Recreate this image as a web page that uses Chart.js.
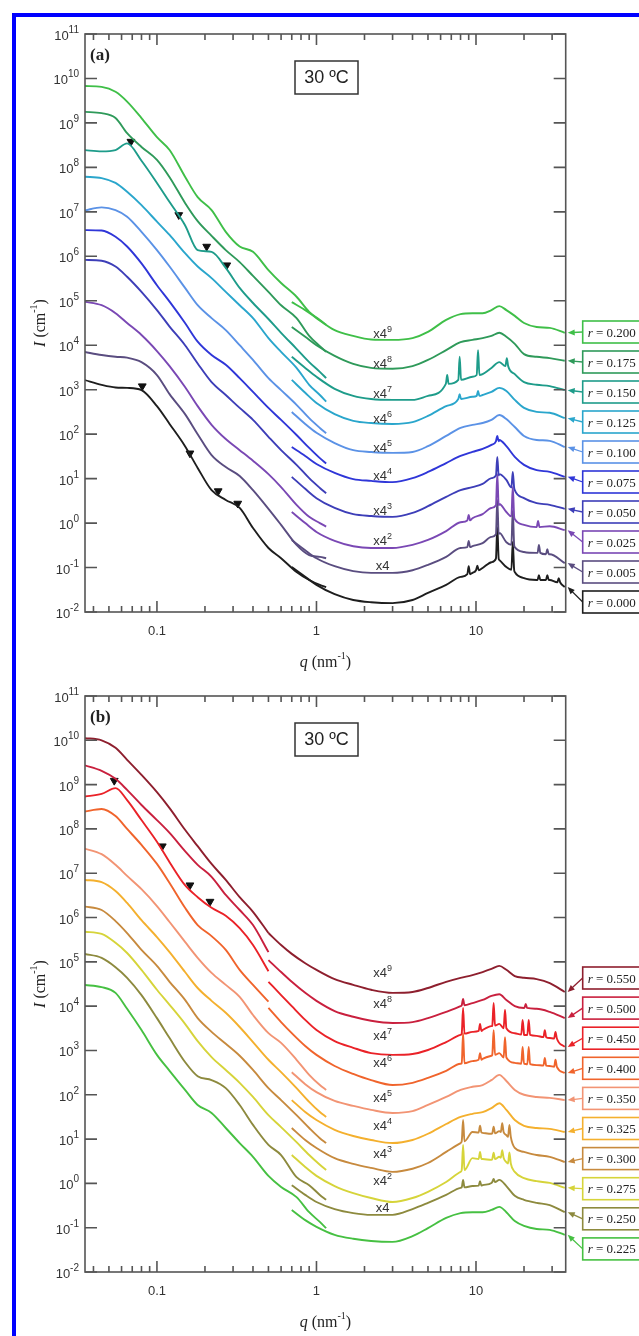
<!DOCTYPE html>
<html>
<head>
<meta charset="utf-8">
<script src="https://cdn.jsdelivr.net/npm/chart.js@4.4.1/dist/chart.umd.min.js"></script>
<style>
  html, body { margin: 0; padding: 0; background: #fff; }
  body { width: 639px; height: 1336px; position: relative; overflow: hidden; }
  #frame { position: absolute; left: 12px; top: 13px; width: 720px; height: 1400px; border: 4px solid #0000ff; box-sizing: border-box; }
  canvas { position: absolute; left: 0; }
  #chartA { top: 0; }
  #chartB { top: 675px; }
</style>
</head>
<body>
<div id="frame"></div>
<canvas id="chartA" width="639" height="675"></canvas>
<canvas id="chartB" width="639" height="661"></canvas>
<script>
'use strict';

// q grids (nm^-1): small-angle part and wide-angle part
var qSaxs  = [0.035, 0.045, 0.055, 0.065, 0.08, 0.1, 0.12, 0.15, 0.18, 0.22, 0.27, 0.33, 0.4, 0.5, 0.6, 0.75, 0.9, 1.05, 1.15];
var qWaxsA = [0.7, 0.85, 1.0, 1.3, 1.7, 2.2, 3, 4, 5, 6.5, 8, 9.5, 11, 12.5, 14, 15.5, 17.5, 20, 24, 29, 36];
var qWaxsB = [0.5, 0.6, 0.7, 0.85, 1.0, 1.3, 1.7, 2.2, 3, 4, 5, 6.5, 8, 9.5, 11, 12.5, 14, 15.5, 17.5, 20, 24, 29, 36];

// ---- panel (a), values are log10 of I (cm^-1) as plotted (already shifted by x4^n)
var saxsA200 = [9.83, 9.81, 9.70, 9.48, 9.11, 8.68, 8.39, 7.79, 7.33, 7.04, 6.55, 6.22, 6.10, 5.69, 5.40, 5.09, 4.75, 4.57, 4.46];
var waxsA200 = [4.97, 4.79, 4.61, 4.34, 4.21, 4.13, 4.12, 4.16, 4.30, 4.57, 4.70, 4.72, 4.72, 4.79, 4.88, 4.79, 4.66, 4.50, 4.41, 4.39, 4.28];
var saxsA175 = [9.25, 9.22, 9.11, 8.77, 8.46, 8.17, 7.78, 7.20, 6.79, 6.46, 6.14, 5.87, 5.56, 5.20, 4.90, 4.61, 4.21, 3.98, 3.85];
var waxsA175 = [4.41, 4.19, 4.00, 3.76, 3.58, 3.49, 3.47, 3.53, 3.67, 3.89, 4.07, 4.12, 4.16, 4.21, 4.28, 4.19, 4.03, 3.80, 3.74, 3.71, 3.65];
var saxsA150 = [8.39, 8.36, 8.39, 8.54, 8.15, 7.65, 7.22, 6.70, 6.14, 6.10, 5.74, 5.29, 4.95, 4.59, 4.28, 3.92, 3.62, 3.40, 3.26];
var waxsA150 = [3.74, 3.49, 3.29, 3.02, 2.86, 2.79, 2.77, 2.77, 2.86, 3.13, 3.22, 3.29, 3.35, 3.49, 3.62, 3.53, 3.35, 3.17, 3.11, 3.08, 2.99];
var saxsA125 = [7.79, 7.76, 7.65, 7.45, 7.15, 6.78, 6.48, 6.07, 5.77, 5.51, 5.20, 4.90, 4.61, 4.16, 3.85, 3.49, 3.11, 2.88, 2.73];
var waxsA125 = [3.22, 2.93, 2.70, 2.45, 2.30, 2.25, 2.23, 2.27, 2.41, 2.63, 2.77, 2.84, 2.88, 2.95, 3.04, 2.97, 2.77, 2.59, 2.50, 2.48, 2.36];
var saxsA100 = [7.03, 7.10, 7.04, 6.89, 6.55, 6.14, 5.77, 5.29, 4.90, 4.61, 4.34, 4.00, 3.67, 3.26, 2.99, 2.66, 2.36, 2.14, 2.02];
var waxsA100 = [2.50, 2.23, 2.03, 1.80, 1.64, 1.60, 1.58, 1.60, 1.73, 1.96, 2.14, 2.21, 2.25, 2.32, 2.43, 2.34, 2.16, 1.96, 1.87, 1.85, 1.71];
var saxsA075 = [6.59, 6.58, 6.44, 6.22, 5.84, 5.35, 4.98, 4.50, 4.08, 3.78, 3.56, 3.26, 2.95, 2.59, 2.32, 1.98, 1.69, 1.46, 1.34];
var waxsA075 = [1.71, 1.51, 1.33, 1.13, 0.99, 0.95, 0.92, 1.01, 1.15, 1.35, 1.51, 1.60, 1.67, 1.76, 1.87, 1.73, 1.49, 1.31, 1.19, 1.15, 1.04];
var saxsA050 = [5.92, 5.90, 5.77, 5.54, 5.20, 4.79, 4.42, 4.00, 3.59, 3.17, 2.88, 2.59, 2.32, 1.94, 1.64, 1.31, 1.01, 0.79, 0.67];
var waxsA050 = [1.04, 0.77, 0.56, 0.34, 0.20, 0.16, 0.14, 0.23, 0.38, 0.59, 0.74, 0.81, 0.88, 1.01, 1.10, 0.97, 0.74, 0.56, 0.45, 0.41, 0.32];
var saxsA025 = [4.98, 4.90, 4.72, 4.50, 4.23, 3.87, 3.53, 3.06, 2.63, 2.21, 1.89, 1.64, 1.40, 1.10, 0.81, 0.41, 0.14, 0.00, -0.08];
var waxsA025 = [0.25, 0.00, -0.20, -0.40, -0.52, -0.56, -0.56, -0.49, -0.38, -0.18, 0.02, 0.11, 0.20, 0.34, 0.43, 0.25, 0.09, -0.04, -0.09, -0.07, -0.16];
var saxsA005 = [3.85, 3.78, 3.74, 3.72, 3.62, 3.33, 2.90, 2.45, 2.00, 1.53, 1.26, 1.06, 0.74, 0.32, -0.04, -0.49, -0.72, -0.76, -0.79];
var waxsA005 = [-0.38, -0.61, -0.79, -0.97, -1.08, -1.12, -1.12, -1.06, -0.94, -0.76, -0.56, -0.52, -0.45, -0.31, -0.22, -0.43, -0.54, -0.65, -0.67, -0.70, -0.90];
var saxsA000 = [3.22, 3.11, 3.05, 3.04, 2.99, 2.63, 2.23, 1.73, 1.24, 0.74, 0.52, 0.34, -0.11, -0.56, -0.79, -1.10, -1.28, -1.39, -1.44];
var waxsA000 = [-0.99, -1.21, -1.39, -1.60, -1.73, -1.78, -1.80, -1.73, -1.57, -1.39, -1.21, -1.12, -1.01, -0.88, -0.83, -0.99, -1.10, -1.24, -1.28, -1.28, -1.44];

// Bragg spikes: [q, foot log10 I, tip log10 I]
var peaksA150 = [[6.6, 3.13, 3.33], [7.9, 3.22, 3.74], [10.3, 3.33, 3.89], [15.6, 3.53, 3.71]];
var peaksA125 = [[7.9, 2.79, 2.90], [10.3, 2.86, 2.97]];
var peaksA075 = [[13.6, 1.84, 1.96]];
var peaksA050 = [[13.6, 1.07, 1.49], [17, 0.80, 1.15]];
var peaksA025 = [[9.0, 0.06, 0.18], [13.6, 0.40, 1.10], [17, 0.15, 0.81], [24.5, -0.09, 0.05]];
var peaksA005 = [[9.0, -0.54, -0.40], [13.6, -0.25, 0.52], [17, -0.49, 0.29], [24.8, -0.67, -0.49], [28, -0.70, -0.59]];
var peaksA000 = [[9.0, -1.15, -0.97], [10.2, -1.06, -0.96], [13.6, -0.80, -0.09], [17, -1.05, -0.42], [24.8, -1.28, -1.17], [28, -1.28, -1.17], [33, -1.33, -1.24]];

var rA = ['0.200', '0.175', '0.150', '0.125', '0.100', '0.075', '0.050', '0.025', '0.005', '0.000'];
var colorsA = ['#3fbf48', '#2f9a5a', '#1e9c8a', '#2aa6cc', '#5b92e6', '#2f36d8', '#3d3eb8', '#7a48b4', '#5a4d80', '#1e1e1e'];

var triQA = [0.0687, 0.137, 0.205, 0.274, 0.0809, 0.161, 0.242, 0.321];
var triLogA = [8.58, 6.93, 6.22, 5.80, 3.08, 1.57, 0.72, 0.44];

// ---- panel (b)
var saxsB550 = [10.05, 10.00, 9.83, 9.56, 9.22, 8.83, 8.47, 7.98, 7.61, 7.21, 6.85, 6.46, 6.13, 5.65, null, null, null, null, null];
var waxsB550 = [5.65, 5.38, 5.18, 4.97, 4.82, 4.61, 4.48, 4.37, 4.30, 4.32, 4.41, 4.55, 4.64, 4.70, 4.77, 4.84, 4.91, 4.82, 4.68, 4.64, 4.61, 4.52, 4.32];
var saxsB500 = [9.44, 9.31, 9.13, 8.88, 8.54, 8.20, 7.91, 7.50, 7.19, 6.92, 6.51, 6.17, 5.83, 5.22, null, null, null, null, null];
var waxsB500 = [5.04, 4.77, 4.55, 4.30, 4.12, 3.89, 3.76, 3.67, 3.62, 3.64, 3.73, 3.87, 4.00, 4.07, 4.14, 4.23, 4.27, 4.14, 4.00, 3.96, 3.94, 3.87, 3.73];
var saxsB450 = [8.73, 8.79, 8.92, 8.65, 8.20, 7.71, 7.25, 6.73, 6.46, 6.22, 6.04, 5.76, 5.38, 4.79, null, null, null, null, null];
var waxsB450 = [4.55, 4.25, 4.00, 3.69, 3.46, 3.21, 3.06, 2.94, 2.90, 2.92, 3.01, 3.19, 3.35, 3.42, 3.46, 3.55, 3.60, 3.46, 3.39, 3.35, 3.33, 3.28, 3.08];
var saxsB400 = [8.39, 8.45, 8.29, 8.00, 7.64, 7.21, 6.78, 6.22, 5.83, 5.58, 5.27, 4.82, 4.48, 4.10, null, null, null, null, null];
var waxsB400 = [3.96, 3.64, 3.39, 3.10, 2.90, 2.65, 2.47, 2.33, 2.22, 2.27, 2.38, 2.54, 2.70, 2.76, 2.81, 2.88, 2.94, 2.81, 2.72, 2.70, 2.67, 2.65, 2.49];
var saxsB350 = [7.56, 7.43, 7.19, 6.94, 6.64, 6.26, 5.90, 5.45, 5.09, 4.75, 4.48, 4.21, 3.80, 3.39, 3.17, 2.79, 2.45, 2.22, 2.11];
var waxsB350 = [null, null, 2.51, 2.24, 2.06, 1.86, 1.75, 1.66, 1.59, 1.63, 1.77, 1.95, 2.11, 2.18, 2.22, 2.33, 2.45, 2.31, 2.11, 2.00, 1.95, 1.93, 1.88];
var saxsB325 = [6.85, 6.80, 6.60, 6.33, 5.94, 5.56, 5.22, 4.77, 4.41, 4.12, 3.85, 3.53, 3.19, 2.79, 2.51, 2.15, 1.84, 1.61, 1.50];
var waxsB325 = [null, null, 1.88, 1.61, 1.43, 1.21, 1.07, 0.98, 0.91, 0.98, 1.12, 1.34, 1.50, 1.57, 1.61, 1.70, 1.81, 1.66, 1.43, 1.30, 1.25, 1.23, 1.16];
var saxsB300 = [6.25, 6.17, 5.92, 5.65, 5.27, 4.91, 4.55, 4.14, 3.73, 3.42, 3.15, 2.88, 2.56, 2.15, 1.88, 1.54, 1.25, 1.02, 0.91];
var waxsB300 = [null, null, 1.25, 0.98, 0.80, 0.57, 0.44, 0.35, 0.26, 0.33, 0.46, 0.71, 0.91, 1.16, 1.14, 1.12, 1.18, 1.09, 0.80, 0.71, 0.64, 0.60, 0.48];
var saxsB275 = [5.68, 5.63, 5.43, 5.20, 4.82, 4.37, 4.03, 3.60, 3.21, 2.85, 2.56, 2.27, 1.95, 1.54, 1.27, 0.93, 0.64, 0.42, 0.30];
var waxsB275 = [null, null, 0.64, 0.37, 0.17, -0.06, -0.22, -0.33, -0.42, -0.33, -0.19, 0.03, 0.26, 0.57, 0.55, 0.53, 0.60, 0.48, 0.26, 0.12, 0.05, 0.01, -0.10];
var saxsB250 = [5.18, 5.09, 4.88, 4.64, 4.25, 3.73, 3.28, 2.74, 2.42, 2.33, 2.15, 1.77, 1.32, 0.87, 0.64, 0.14, -0.04, -0.26, -0.37];
var waxsB250 = [null, null, -0.04, -0.26, -0.42, -0.58, -0.67, -0.71, -0.71, -0.58, -0.44, -0.26, -0.10, -0.06, -0.04, 0.01, 0.08, -0.06, -0.28, -0.37, -0.44, -0.49, -0.65];
var saxsB225 = [4.48, 4.43, 4.30, 3.94, 3.46, 2.90, 2.54, 2.11, 1.77, 1.59, 1.25, 0.91, 0.60, 0.17, -0.08, -0.31, -0.65, -0.87, -1.01];
var waxsB225 = [null, null, -0.60, -0.83, -0.98, -1.16, -1.25, -1.30, -1.32, -1.19, -1.01, -0.78, -0.67, -0.65, -0.65, -0.60, -0.53, -0.65, -0.85, -0.96, -1.03, -1.05, -1.16];

var peaksB500 = [[8.3, 4.02, 4.16], [20.5, 3.96, 4.05]];
var peaksB450 = [[8.3, 3.38, 3.96], [10.6, 3.44, 3.60], [12.9, 3.56, 4.07], [15.2, 3.50, 3.92], [19.6, 3.36, 3.69], [21.4, 3.35, 3.69], [27, 3.30, 3.46], [31.5, 3.27, 3.42]];
var peaksB400 = [[8.3, 2.71, 3.39], [10.6, 2.79, 2.94], [12.9, 2.90, 3.46], [15.2, 2.84, 3.30], [19.6, 2.70, 3.08], [21.4, 2.69, 3.08], [27, 2.66, 2.83], [31.5, 2.63, 2.79]];
var peaksB300 = [[8.3, 0.95, 1.43], [10.6, 1.15, 1.30], [12.9, 1.13, 1.28], [14.6, 1.16, 1.36], [16.2, 1.05, 1.32]];
var peaksB275 = [[8.3, 0.30, 0.87], [10.6, 0.55, 0.71], [12.9, 0.55, 0.69], [14.6, 0.58, 0.75], [16.2, 0.45, 0.70]];
var peaksB250 = [[8.3, -0.09, 0.08], [10.6, -0.05, 0.05], [12.9, 0.03, 0.10]];

var rB = ['0.550', '0.500', '0.450', '0.400', '0.350', '0.325', '0.300', '0.275', '0.250', '0.225'];
var colorsB = ['#8e1f2e', '#c9203e', '#ea2228', '#f0642c', '#f29474', '#f4b02e', '#c78a3e', '#d6d43a', '#8d8a3e', '#46c042'];

var triQB = [0.054, 0.108, 0.161, 0.215];
var triLogB = [9.09, 7.61, 6.73, 6.36];

// "x4^n" shift labels, log10 I of each label and its exponent
var shiftExp = ['9', '8', '7', '6', '5', '4', '3', '2', ''];
var shiftLogA = [4.28, 3.60, 2.93, 2.36, 1.71, 1.08, 0.29, -0.38, -0.94];
var shiftLogB = [4.78, 4.07, 3.35, 2.75, 1.96, 1.32, 0.69, 0.08, -0.53];
var shiftQ = 2.6;

// axes
var xMajor = [0.1, 1, 10];
var xTickText = ['0.1', '1', '10'];
var xMinor = [0.04, 0.05, 0.06, 0.07, 0.08, 0.09, 0.2, 0.3, 0.4, 0.5, 0.6, 0.7, 0.8, 0.9, 2, 3, 4, 5, 6, 7, 8, 9, 20, 30];
var yDecades = [-2, -1, 0, 1, 2, 3, 4, 5, 6, 7, 8, 9, 10, 11];

var SANS = '"Liberation Sans", Arial, sans-serif';
var SERIF = '"Liberation Serif", "Times New Roman", serif';

function toPoints(qs, logs, peaks) {
  var pts = [];
  qs.forEach(function (q, i) {
    if (logs[i] === null) return;
    var inPeak = peaks.some(function (p) { return q > p[0] / 1.02 && q < p[0] * 1.02; });
    if (!inPeak) pts.push({ x: q, y: Math.pow(10, logs[i]) });
  });
  peaks.forEach(function (p) {
    pts.push({ x: p[0] / 1.02, y: Math.pow(10, p[1]) });
    pts.push({ x: p[0], y: Math.pow(10, p[2]) });
    pts.push({ x: p[0] * 1.02, y: Math.pow(10, p[1]) });
  });
  pts.sort(function (a, b) { return a.x - b.x; });
  return pts;
}

function curveSet(qs, logs, peaks, color) {
  return {
    data: toPoints(qs, logs, peaks),
    borderColor: color,
    borderWidth: 1.9,
    pointRadius: 0,
    fill: false,
    cubicInterpolationMode: 'monotone'
  };
}

// draws a row of text pieces [text, font, dy]
function drawRich(ctx, parts, x, y, align) {
  var w = 0;
  parts.forEach(function (p) { ctx.font = p[1]; w += ctx.measureText(p[0]).width; });
  var cx = align === 'center' ? x - w / 2 : (align === 'right' ? x - w : x);
  ctx.textAlign = 'left';
  parts.forEach(function (p) {
    ctx.font = p[1];
    ctx.fillText(p[0], cx, y + (p[2] || 0));
    cx += ctx.measureText(p[0]).width;
  });
}

function arrow(ctx, x0, y0, x1, y1, color) {
  var ang = Math.atan2(y1 - y0, x1 - x0);
  var c = Math.cos(ang), s = Math.sin(ang);
  ctx.strokeStyle = color;
  ctx.fillStyle = color;
  ctx.lineWidth = 1.3;
  ctx.beginPath();
  ctx.moveTo(x0, y0);
  ctx.lineTo(x1 - 5 * c, y1 - 5 * s);
  ctx.stroke();
  ctx.beginPath();
  ctx.moveTo(x1, y1);
  ctx.lineTo(x1 - 7 * c + 3 * s, y1 - 7 * s - 3 * c);
  ctx.lineTo(x1 - 7 * c - 3 * s, y1 - 7 * s + 3 * c);
  ctx.closePath();
  ctx.fill();
}

function figurePlugin(panel) {
  return {
    id: 'figure',
    afterDraw: function (chart) {
      var ctx = chart.ctx, a = chart.chartArea;
      var xs = chart.scales.x, ys = chart.scales.y;
      ctx.save();

      // plot frame with inward ticks on all sides
      ctx.strokeStyle = '#555';
      ctx.lineWidth = 1.6;
      ctx.strokeRect(a.left, a.top, a.right - a.left, a.bottom - a.top);
      ctx.beginPath();
      xMajor.forEach(function (v) {
        var px = xs.getPixelForValue(v);
        ctx.moveTo(px, a.bottom); ctx.lineTo(px, a.bottom - 11);
        ctx.moveTo(px, a.top); ctx.lineTo(px, a.top + 11);
      });
      xMinor.forEach(function (v) {
        var px = xs.getPixelForValue(v);
        ctx.moveTo(px, a.bottom); ctx.lineTo(px, a.bottom - 6);
        ctx.moveTo(px, a.top); ctx.lineTo(px, a.top + 6);
      });
      yDecades.forEach(function (e) {
        var py = ys.getPixelForValue(Math.pow(10, e));
        ctx.moveTo(a.left, py); ctx.lineTo(a.left + 12, py);
        ctx.moveTo(a.right, py); ctx.lineTo(a.right - 12, py);
      });
      ctx.stroke();

      // tick labels
      ctx.fillStyle = '#333';
      ctx.textBaseline = 'alphabetic';
      yDecades.forEach(function (e) {
        var py = ys.getPixelForValue(Math.pow(10, e));
        drawRich(ctx, [['10', '13px ' + SANS, 0], [String(e), '10px ' + SANS, -7]], a.left - 6, py + 6, 'right');
      });
      xMajor.forEach(function (v, i) {
        drawRich(ctx, [[xTickText[i], '13px ' + SANS, 0]], xs.getPixelForValue(v), a.bottom + 23, 'center');
      });

      // axis titles
      ctx.fillStyle = '#222';
      drawRich(ctx, [['q', 'italic 16px ' + SERIF, 0], [' (nm', '16px ' + SERIF, 0], ['-1', '10px ' + SERIF, -8], [')', '16px ' + SERIF, 0]],
        (a.left + a.right) / 2, a.bottom + 55, 'center');
      ctx.save();
      ctx.translate(40, (a.top + a.bottom) / 2);
      ctx.rotate(-Math.PI / 2);
      drawRich(ctx, [['I', 'italic 16px ' + SERIF, 0], [' (cm', '16px ' + SERIF, 0], ['-1', '10px ' + SERIF, -8], [')', '16px ' + SERIF, 0]], 0, 5, 'center');
      ctx.restore();

      // panel tag and temperature box
      ctx.fillStyle = '#222';
      drawRich(ctx, [[panel.tag, 'bold 17px ' + SERIF, 0]], a.left + 5, a.top + 26, 'left');
      ctx.strokeStyle = '#333';
      ctx.lineWidth = 1.5;
      ctx.strokeRect(a.left + 210, a.top + 27, 63, 33);
      ctx.textBaseline = 'middle';
      drawRich(ctx, [['30 \u00baC', '18px ' + SANS, 0]], a.left + 241.5, a.top + 44, 'center');
      ctx.textBaseline = 'alphabetic';

      // x4^n labels
      ctx.fillStyle = '#333';
      panel.shiftLog.forEach(function (lg, i) {
        var px = xs.getPixelForValue(shiftQ);
        var py = ys.getPixelForValue(Math.pow(10, lg));
        drawRich(ctx, [['x4', '13px ' + SANS, 0], [shiftExp[i], '9px ' + SANS, -6]], px, py + 5, 'center');
      });

      // legend boxes with arrows to the curve ends
      var boxX = a.right + 17;
      panel.r.forEach(function (r, i) {
        var cy = a.top + panel.legendTop + i * panel.legendGap;
        var last = panel.waxs[i][panel.waxs[i].length - 1];
        var yEnd = ys.getPixelForValue(Math.pow(10, last));
        ctx.strokeStyle = panel.colors[i];
        ctx.lineWidth = 1.6;
        ctx.strokeRect(boxX, cy - 11, 64, 22);
        ctx.fillStyle = '#222';
        drawRich(ctx, [['r', 'italic 13px ' + SERIF, 0], [' = ' + r, '13px ' + SERIF, 0]], boxX + 5, cy + 4.5, 'left');
        arrow(ctx, boxX, cy, a.right + 2, yEnd, panel.colors[i]);
      });

      ctx.restore();
    }
  };
}

function makePanel(canvasId, panel) {
  var datasets = [];
  panel.r.forEach(function (r, i) {
    datasets.push(curveSet(qSaxs, panel.saxs[i], [], panel.colors[i]));
    datasets.push(curveSet(panel.qWaxs, panel.waxs[i], panel.peaks[i], panel.colors[i]));
  });
  datasets.push({
    data: panel.triQ.map(function (q, i) { return { x: q, y: Math.pow(10, panel.triLog[i]) }; }),
    showLine: false,
    pointStyle: 'triangle',
    rotation: 180,
    pointRadius: 4.5,
    pointBackgroundColor: '#111',
    pointBorderColor: '#111',
    borderColor: '#111'
  });

  var ctx = document.getElementById(canvasId).getContext('2d');
  return new Chart(ctx, {
    type: 'line',
    data: { datasets: datasets },
    options: {
      responsive: false,
      animation: false,
      events: [],
      layout: { autoPadding: false, padding: { left: 0, right: 73.3, top: panel.padTop, bottom: 0 } },
      plugins: { legend: { display: false }, tooltip: { enabled: false } },
      scales: {
        x: {
          type: 'logarithmic', min: 0.0354, max: 36.5,
          grid: { display: false, drawTicks: false }, border: { display: false }, ticks: { display: false },
          afterFit: function (s) { s.height = panel.xAxisH; }
        },
        y: {
          type: 'logarithmic', min: 1e-2, max: 1e11,
          grid: { display: false, drawTicks: false }, border: { display: false }, ticks: { display: false },
          afterFit: function (s) { s.width = 85; }
        }
      }
    },
    plugins: [figurePlugin(panel)]
  });
}

makePanel('chartA', {
  tag: '(a)', padTop: 34, xAxisH: 63, legendTop: 298, legendGap: 30,
  qWaxs: qWaxsA, r: rA, colors: colorsA,
  saxs: [saxsA200, saxsA175, saxsA150, saxsA125, saxsA100, saxsA075, saxsA050, saxsA025, saxsA005, saxsA000],
  waxs: [waxsA200, waxsA175, waxsA150, waxsA125, waxsA100, waxsA075, waxsA050, waxsA025, waxsA005, waxsA000],
  peaks: [[], [], peaksA150, peaksA125, [], peaksA075, peaksA050, peaksA025, peaksA005, peaksA000],
  triQ: triQA, triLog: triLogA, shiftLog: shiftLogA
});

makePanel('chartB', {
  tag: '(b)', padTop: 21, xAxisH: 64, legendTop: 282, legendGap: 30.1,
  qWaxs: qWaxsB, r: rB, colors: colorsB,
  saxs: [saxsB550, saxsB500, saxsB450, saxsB400, saxsB350, saxsB325, saxsB300, saxsB275, saxsB250, saxsB225],
  waxs: [waxsB550, waxsB500, waxsB450, waxsB400, waxsB350, waxsB325, waxsB300, waxsB275, waxsB250, waxsB225],
  peaks: [[], peaksB500, peaksB450, peaksB400, [], [], peaksB300, peaksB275, peaksB250, []],
  triQ: triQB, triLog: triLogB, shiftLog: shiftLogB
});
</script>
</body>
</html>
